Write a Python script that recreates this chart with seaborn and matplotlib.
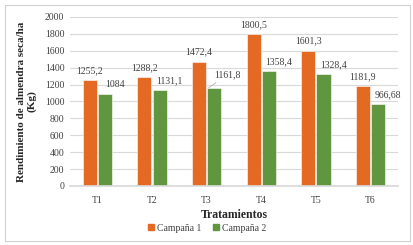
import matplotlib
matplotlib.use('Agg')
import matplotlib.pyplot as plt
import seaborn as sns
import pandas as pd
from matplotlib.patches import Rectangle

tratamientos = ["T1", "T2", "T3", "T4", "T5", "T6"]
campana1 = [1255.2, 1288.2, 1472.4, 1800.5, 1601.3, 1181.9]
campana2 = [1084, 1131.1, 1161.8, 1358.4, 1328.4, 966.68]
labels1 = ["1255,2", "1288,2", "1472,4", "1800,5", "1601,3", "1181,9"]
labels2 = ["1084", "1131,1", "1161,8", "1358,4", "1328,4", "966,68"]
series = ["Campaña 1", "Campaña 2"]
colors = ["#E46A24", "#5F963F"]

sns.set_theme(style="white")
plt.rcParams['font.family'] = ['Liberation Serif', 'DejaVu Serif']

df = pd.DataFrame({
    "trat": tratamientos * 2,
    "valor": campana1 + campana2,
    "serie": [series[0]] * 6 + [series[1]] * 6,
})

fig = plt.figure(figsize=(4.14, 2.45), dpi=100)
ax = fig.add_axes([0.169, 0.241, 0.792, 0.69])
sns.barplot(data=df, x="trat", y="valor", hue="serie", palette=colors, saturation=1,
            width=0.56, gap=0.08, ax=ax, legend=False, edgecolor="white", linewidth=0.4)

ax.set_ylim(0, 2000)
ax.set_yticks(range(0, 2001, 200))
ax.yaxis.grid(True, color="#D9D9D9", linewidth=0.8)
ax.set_axisbelow(True)
for s in ["top", "right", "left"]:
    ax.spines[s].set_visible(False)
ax.spines["bottom"].set_color("#D9D9D9")
ax.tick_params(axis="both", length=0, labelsize=7, colors="#404040", pad=4)
ax.tick_params(axis="x", pad=7)

ax.set_xlabel("Tratamientos", fontsize=8.5, fontweight="bold", labelpad=3)
ax.set_ylabel("Rendimiento de almendra seca/ha\n(Kg)", fontsize=8,
              fontweight="bold", labelpad=6, linespacing=1.1)

bars1 = ax.containers[0]
bars2 = ax.containers[1]
for bar, lab in zip(bars1, labels1):
    ax.annotate(lab, (bar.get_x() + bar.get_width() / 2, bar.get_height()),
                xytext=(0, 3.5), textcoords="offset points",
                ha="center", va="bottom", fontsize=7, color="#404040")
for i, (bar, lab) in enumerate(zip(bars2, labels2)):
    if i == 2:
        ax.annotate(lab, (bar.get_x() + bar.get_width() * 0.1, bar.get_height()),
                    xytext=(4, 6), textcoords="offset points",
                    ha="left", va="bottom", fontsize=7, color="#404040",
                    arrowprops=dict(arrowstyle="-", color="#A6A6A6", lw=0.5,
                                    shrinkA=0, shrinkB=0))
    else:
        ax.annotate(lab, (bar.get_x() + bar.get_width() / 2, bar.get_height()),
                    xytext=(7, 3.5), textcoords="offset points",
                    ha="center", va="bottom", fontsize=7, color="#404040")

handles = [Rectangle((0, 0), 1, 1, color=c) for c in colors]
fig.legend(handles, series, loc="lower center", bbox_to_anchor=(0.5, 0.015),
           ncol=2, frameon=False, fontsize=7, handlelength=0.6, handleheight=0.6,
           handletextpad=0.3, columnspacing=1.2, labelcolor="#404040")

fig.patches.append(Rectangle((0.012, 0.015), 0.978, 0.965, transform=fig.transFigure,
                             fill=False, edgecolor="#D0D0D0", linewidth=0.8))

fig.savefig("out.png", dpi=100)
